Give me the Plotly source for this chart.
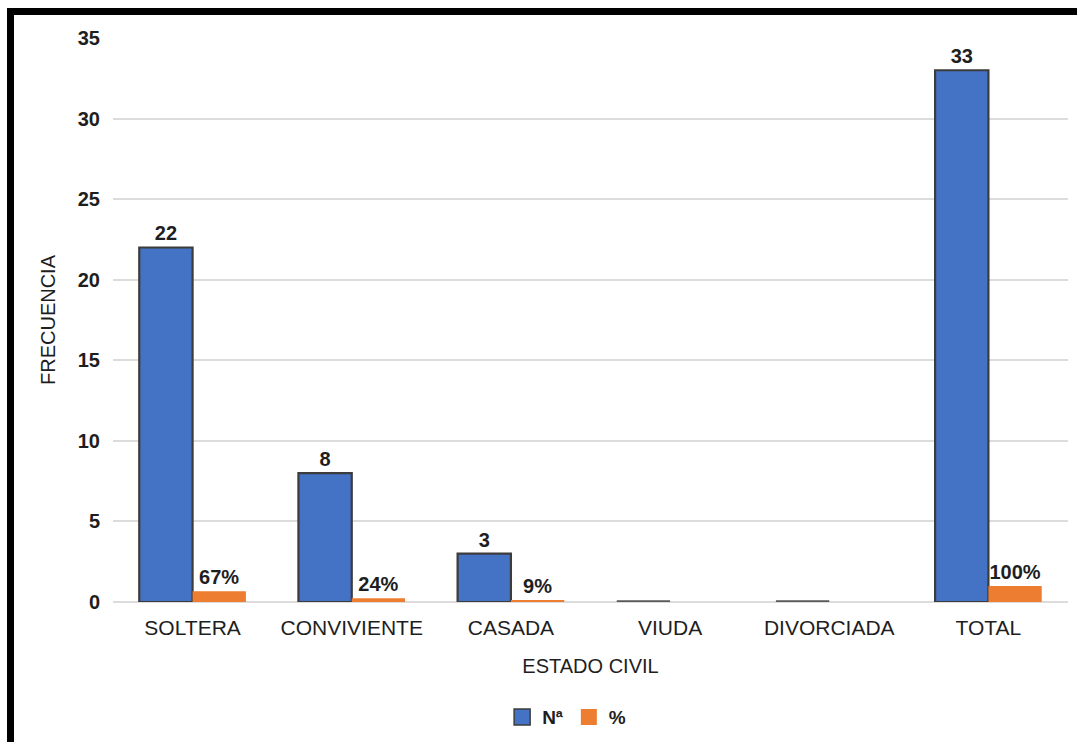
import plotly.graph_objects as go

# Estado civil: frecuencia absoluta (Nª) y relativa (%)
categorias = ["SOLTERA", "CONVIVIENTE", "CASADA", "VIUDA", "DIVORCIADA", "TOTAL"]
frecuencia = [22, 8, 3, 0, 0, 33]
proporcion = [0.67, 0.24, 0.09, 0, 0, 1.00]
y_ticks = [0, 5, 10, 15, 20, 25, 30, 35]

FONT = "Liberation Sans, Arial, sans-serif"
INK = "#1e1e1e"
AZUL = "#4472C4"
NARANJA = "#ED7D31"
BORDE = "#3c3c3c"

texto_n = [str(v) if v else "" for v in frecuencia]
texto_p = [f"{round(v * 100)}%" if v else "" for v in proporcion]

# las barras vacías se ven como un trazo gris más grueso
borde_ancho = [2.2 if v else 3.5 for v in frecuencia]
borde_color = [BORDE if v else "#5a5a5a" for v in frecuencia]

etiqueta = dict(family=FONT, size=20, color=INK, weight="bold")

fig = go.Figure()
fig.add_trace(go.Bar(
    x=categorias, y=frecuencia, name="Nª", showlegend=False,
    marker=dict(color=AZUL, line=dict(color=borde_color, width=borde_ancho)),
    text=texto_n, textposition="outside", cliponaxis=False,
    textfont=etiqueta,
))
fig.add_trace(go.Bar(
    x=categorias, y=proporcion, name="%", showlegend=False,
    marker=dict(color=NARANJA, line=dict(width=0)),
    text=texto_p, textposition="outside", cliponaxis=False,
    textfont=etiqueta,
))
# entradas de leyenda con cuadrados más grandes
fig.add_trace(go.Scatter(
    x=[None], y=[None], mode="markers", name="Nª",
    marker=dict(symbol="square", size=16, color=AZUL, line=dict(color=BORDE, width=1.5)),
))
fig.add_trace(go.Scatter(
    x=[None], y=[None], mode="markers", name="%",
    marker=dict(symbol="square", size=16, color=NARANJA, line=dict(width=0)),
))

fig.update_layout(
    width=1077, height=742,
    margin=dict(l=113, r=9, t=38, b=140, autoexpand=False),
    paper_bgcolor="white", plot_bgcolor="white",
    barmode="group", bargap=0.33, bargroupgap=0,
    font=dict(family=FONT, size=20, color=INK),
    showlegend=True,
    legend=dict(orientation="h", x=0.475, xanchor="center", y=-0.204, yanchor="middle",
                font=dict(family=FONT, size=19, color=INK, weight="bold"),
                itemsizing="trace", itemwidth=30, tracegroupgap=0),
    shapes=[
        # marco negro superior e izquierdo
        dict(type="rect", xref="paper", yref="paper",
             x0=(10.5 - 113) / 955, x1=1.2, y0=-0.5, y1=(602 - 11.5) / 564,
             line=dict(color="black", width=7), fillcolor="rgba(0,0,0,0)", layer="above"),
    ],
)
fig.update_xaxes(
    title=dict(text="ESTADO CIVIL", font=dict(family=FONT, size=20, color=INK), standoff=20),
    tickfont=dict(family=FONT, size=21, color=INK),
    ticklabelstandoff=11,
    showline=False, ticks="",
)
fig.update_yaxes(
    title=dict(text="FRECUENCIA", font=dict(family=FONT, size=20, color=INK), standoff=16),
    range=[0, 35], tickvals=y_ticks,
    tickfont=dict(family=FONT, size=20, color=INK, weight="bold"),
    ticklabelstandoff=12,
    showgrid=True, gridcolor="#dcdcdc", gridwidth=1.5,
    zeroline=True, zerolinecolor="#dcdcdc", zerolinewidth=1.5,
    ticks="", ticklen=0,
)

fig.write_html("out.html")
